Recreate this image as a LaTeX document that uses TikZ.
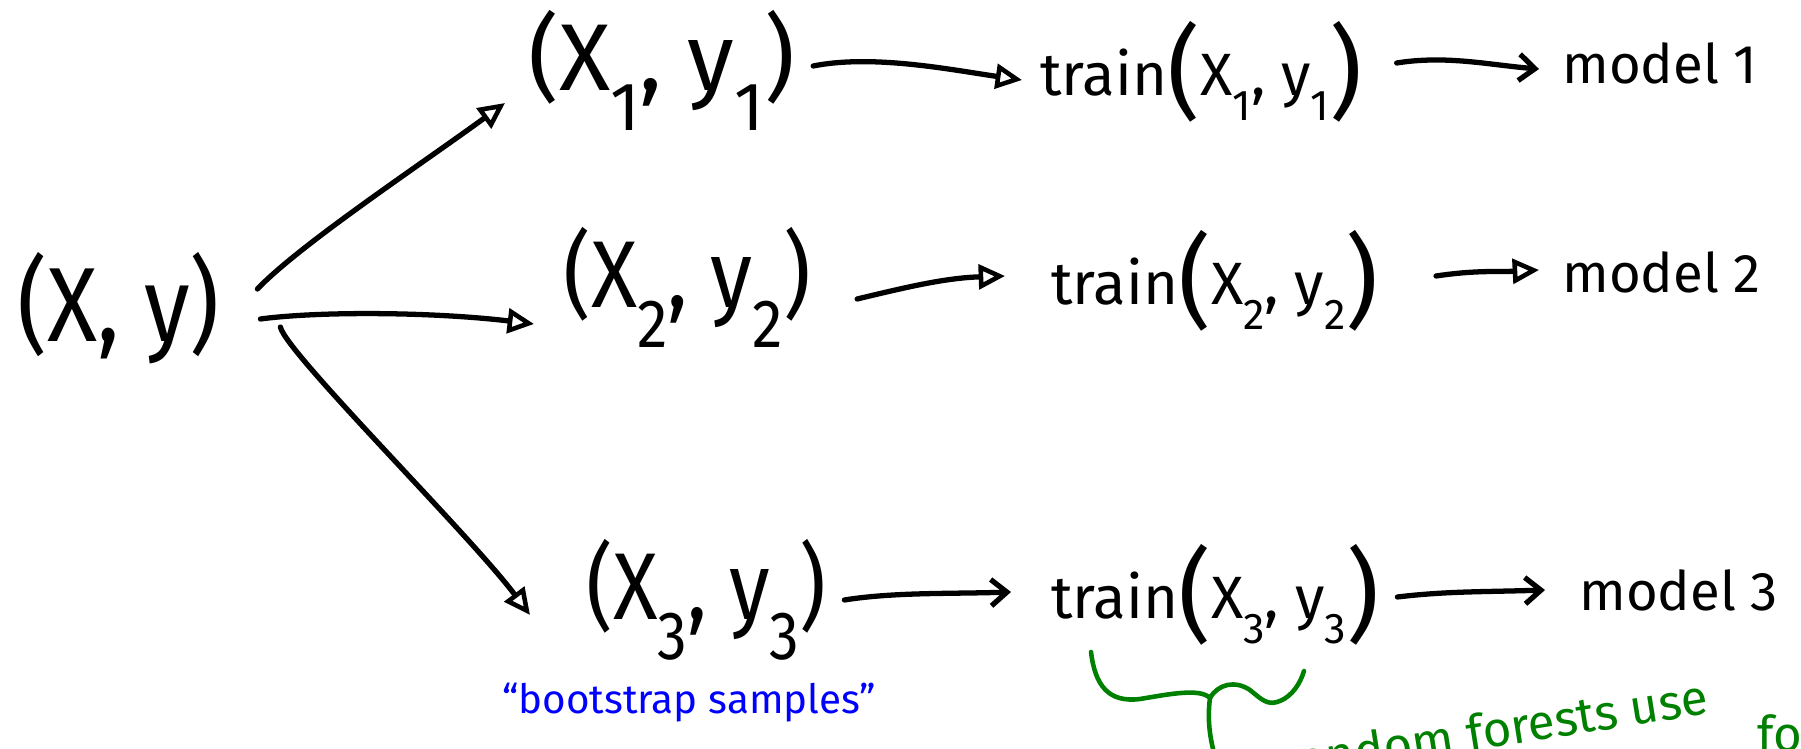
\documentclass[tikz,border=0pt]{standalone}
\usepackage{fontspec}
\setmainfont{Fira Sans}
\usetikzlibrary{arrows.meta,calc}
\definecolor{penblue}{RGB}{0,0,255}
\definecolor{pengreen}{RGB}{0,128,0}
\newcommand\lowsub[1]{\raisebox{-0.42em}{\scalebox{0.72}{#1}}}
\newcommand\bigpar[1]{{\fontsize{58}{58}\selectfont\raisebox{-0.12em}{#1}}}
\tikzset{
 ink/.style={line width=3pt,line cap=round,line join=round},
 looptip/.style={ink,-{Triangle[open,length=15pt,width=14pt,line width=2.6pt]}},
 barbtip/.style={ink,-{Straight Barb[length=9pt,width=15pt,line width=3pt]}},
 lab/.style={inner sep=0pt,anchor=west},
 pairlab/.style={lab,font=\fontsize{54}{54}\selectfont},
 trainlab/.style={lab,font=\fontsize{34}{34}\selectfont},
 modellab/.style={lab,font=\fontsize{31}{31}\selectfont},
 greenpen/.style={line width=2.6pt,line cap=round,line join=round,draw=pengreen},
}
\begin{document}
\begin{tikzpicture}[x=0.02cm,y=-0.02cm]
\useasboundingbox (0,0) rectangle (1801,749);
\clip (0,0) rectangle (1801,749);
% source pair
\node[lab,font=\fontsize{60}{60}\selectfont] (xy) at (17,308) {\scalebox{0.88}[1]{(X, y)}};
% bootstrap samples
\node[pairlab] (s1) at (528,70) {(X\lowsub{1}, y\lowsub{1})};
\node[pairlab] (s2) at (563,287) {\scalebox{0.9}[1]{(X\lowsub{2}, y\lowsub{2})}};
\node[pairlab] (s3) at (586,600) {\scalebox{0.87}[1]{(X\lowsub{3}, y\lowsub{3})}};
% training
\node[trainlab] (t1) at (1040,72) {train\bigpar{(}X\lowsub{1}, y\lowsub{1}\bigpar{)}};
\node[trainlab] (t2) at (1051,281) {train\bigpar{(}X\lowsub{2}, y\lowsub{2}\bigpar{)}};
\node[trainlab] (t3) at (1051,595) {train\bigpar{(}X\lowsub{3}, y\lowsub{3}\bigpar{)}};
% models
\node[modellab] (m1) at (1562,63) {model 1};
\node[modellab] (m2) at (1562,272) {model 2};
\node[modellab] (m3) at (1579,590) {model 3};
% annotations
\node[inner sep=0pt,text=penblue,font=\fontsize{23}{23}\selectfont] (boot) at (689,703) {“bootstrap samples”};
\node[inner sep=0pt,text=pengreen,font=\fontsize{28}{28}\selectfont,rotate=9] (rf) at (1495,729) {random forests use};
\node[inner sep=0pt,anchor=north west,text=pengreen,font=\fontsize{28}{28}\selectfont] (rf2) at (1757,714) {fo};
% arrows from (X,y)
\draw[looptip] ($(xy.east)+(37,-19)$) .. controls +(42,-44) and +(-85,62) .. ($(s1.west)+(-23,33)$);
\draw[looptip] ($(xy.east)+(40,11)$) .. controls +(60,-8) and +(-100,-12) .. ($(s2.west)+(-29,37)$);
\draw[looptip] ($(xy.east)+(60,19)$) .. controls +(5,25) and +(-60,-80) .. ($(s3.west)+(-56,15)$);
% row 1
\draw[looptip] ($(s1.east)+(18,-4)$) .. controls +(60,-12) and +(-70,-10) .. ($(t1.west)+(-18,8)$);
\draw[barbtip] ($(t1.east)+(34,-9)$) .. controls +(50,-8) and +(-50,-4) .. ($(m1.west)+(-23,6)$);
% row 2
\draw[looptip] ($(s2.east)+(46,12)$) .. controls +(50,-12) and +(-60,2) .. ($(t2.west)+(-46,-5)$);
\draw[looptip] ($(t2.east)+(57,-5)$) .. controls +(40,-6) and +(-40,2) .. ($(m2.west)+(-23,-2)$);
% row 3
\draw[barbtip] ($(s3.east)+(18,0)$) .. controls +(50,-8) and +(-60,2) .. ($(t3.west)+(-40,-3)$);
\draw[barbtip] ($(t3.east)+(18,2)$) .. controls +(50,-6) and +(-60,2) .. ($(m3.west)+(-34,0)$);
% green brace under train(X3,y3)
\draw[greenpen] (1091,652) .. controls (1095,685) and (1108,703) .. (1140,699)
  .. controls (1170,694) and (1200,688) .. (1210,698)
  .. controls (1218,684) and (1235,680) .. (1250,690)
  .. controls (1262,700) and (1268,706) .. (1280,701)
  .. controls (1292,696) and (1300,684) .. (1304,671);
\draw[greenpen] (1210,698) .. controls (1207,720) and (1210,740) .. (1216,760);
\end{tikzpicture}
\end{document}
